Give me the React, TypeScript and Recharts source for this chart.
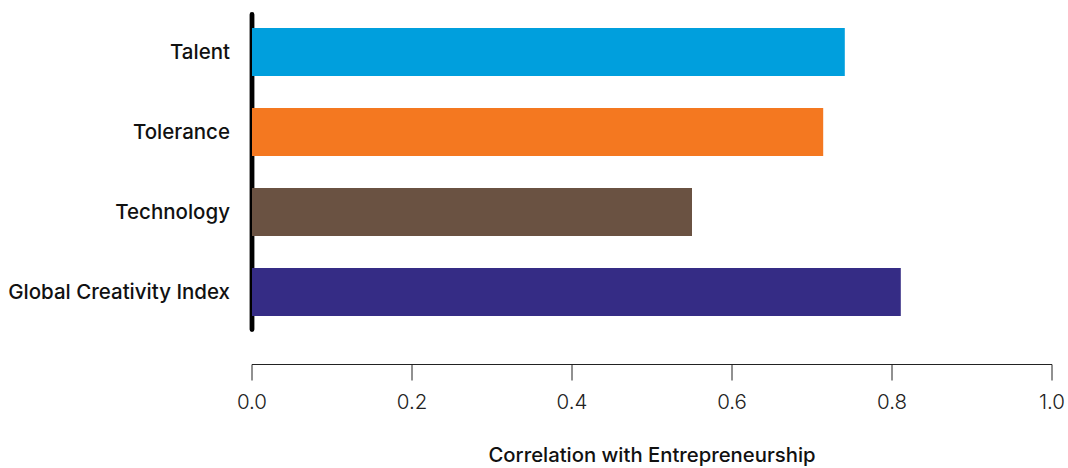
import React from 'react';
import { BarChart, Bar, XAxis, YAxis, Cell, ReferenceArea } from 'recharts';

const categories = ['Talent', 'Tolerance', 'Technology', 'Global Creativity Index'];
const correlations = [0.741, 0.714, 0.55, 0.811];
const barColors = ['#009fdd', '#f47820', '#6a5242', '#352c85'];
const xTicks = [0, 0.2, 0.4, 0.6, 0.8, 1.0];

const data = categories.map((name, i) => ({ name, value: correlations[i] }));

const FONT = '"Helvetica Neue", Inter, "Liberation Sans", Arial, sans-serif';

const App: React.FC = () => {
    return (
        <div style={{ position: 'absolute', left: 0, top: 0, background: '#fff' }}>
            <BarChart
                width={1068}
                height={468}
                data={data}
                layout="vertical"
                margin={{ top: 12, right: 16, left: 0, bottom: 0 }}
            >
                <XAxis
                    type="number"
                    domain={[0, 1]}
                    ticks={xTicks}
                    tickFormatter={(v: number) => v.toFixed(1)}
                    height={103.5}
                    stroke="#222"
                    tickSize={16}
                    tickMargin={14}
                    tick={{ fill: '#222', fontSize: 20.5, fontFamily: FONT, fontWeight: 300 }}
                    label={{
                        value: 'Correlation with Entrepreneurship',
                        position: 'insideBottom',
                        offset: 6,
                        fill: '#111',
                        fontSize: 20.3,
                        fontWeight: 500,
                        fontFamily: FONT,
                    }}
                />
                <YAxis
                    type="category"
                    dataKey="name"
                    width={252}
                    axisLine={false}
                    tickLine={false}
                    tickSize={0}
                    tickMargin={22}
                    padding={{ top: 0, bottom: 32.5 }}
                    tick={{ fill: '#111', fontSize: 20.5, fontFamily: FONT, fontWeight: 500 }}
                />
                <Bar dataKey="value" barSize={48} isAnimationActive={false}>
                    {data.map((d, i) => (
                        <Cell key={d.name} fill={barColors[i]} />
                    ))}
                </Bar>
                {/* thick black baseline at zero */}
                <ReferenceArea
                    x1={-0.003}
                    x2={0.003}
                    y1="Talent"
                    y2="Global Creativity Index"
                    ifOverflow="visible"
                    fill="#000"
                    fillOpacity={1}
                    stroke="none"
                    radius={2.5}
                />
            </BarChart>
        </div>
    );
};

export default App;
